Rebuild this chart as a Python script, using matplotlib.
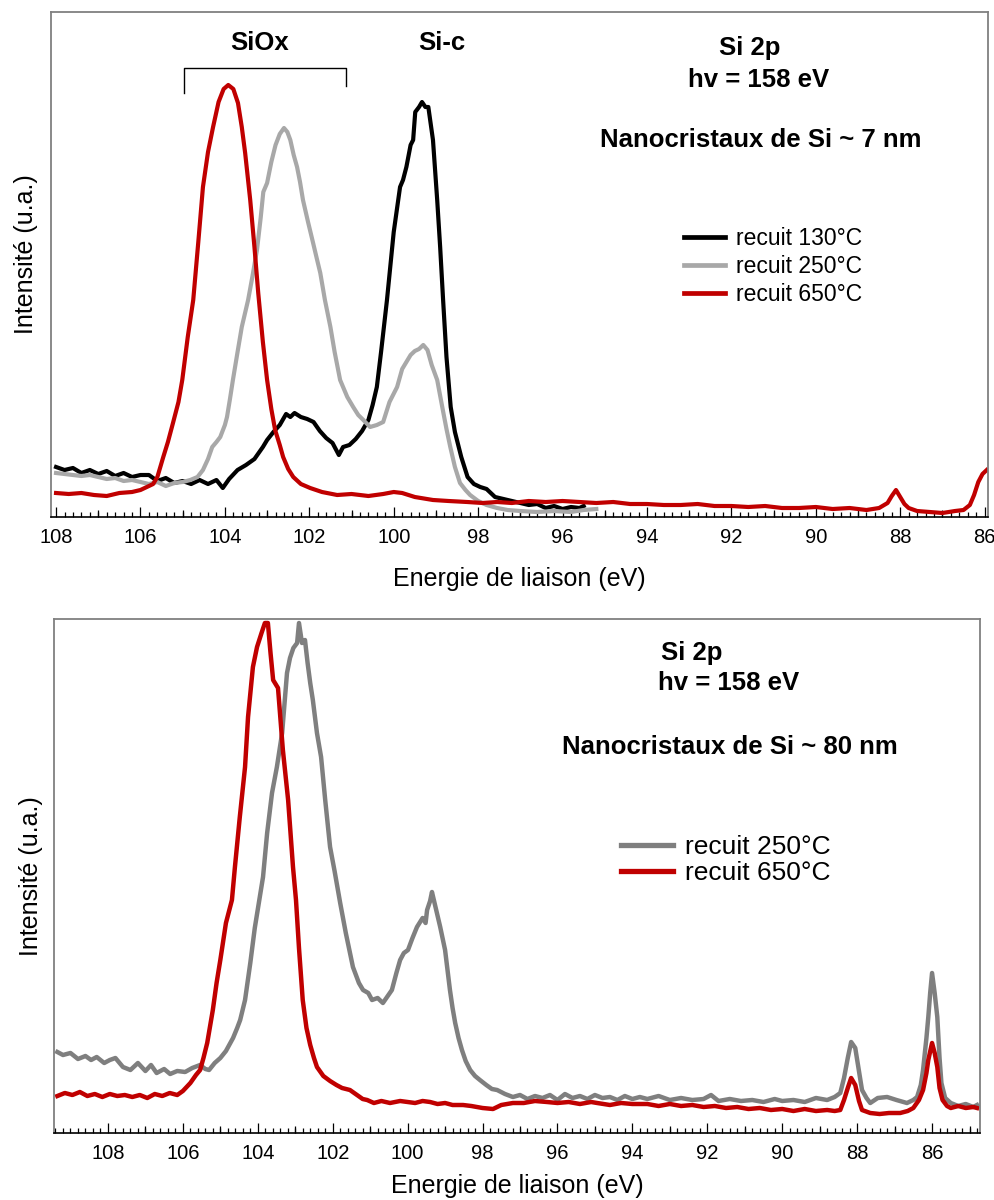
import matplotlib
matplotlib.use("Agg")
import matplotlib.pyplot as plt
from matplotlib.ticker import MultipleLocator, FormatStrFormatter

plt.rcParams['font.family'] = ['Liberation Sans', 'DejaVu Sans']

# ---------------- data : top panel (Si nanocrystals ~7 nm) ----------------
top_e_130 = [108.0, 107.8, 107.6, 107.4, 107.2, 107.0, 106.8, 106.6, 106.4, 106.2, 106.0, 105.8, 105.6, 105.4,
             105.2, 105.0, 104.8, 104.6, 104.4, 104.2, 104.05, 103.9, 103.7, 103.5, 103.3, 103.1, 103.0, 102.85,
             102.7, 102.55, 102.45, 102.35, 102.2, 102.05, 101.9, 101.75, 101.6, 101.45, 101.3, 101.2, 101.05,
             100.9, 100.75, 100.6, 100.5, 100.4, 100.3, 100.16, 100.0, 99.85, 99.78, 99.7, 99.6, 99.54, 99.49,
             99.4, 99.33, 99.25, 99.18, 99.07, 98.97, 98.9, 98.83, 98.75, 98.65, 98.55, 98.4, 98.25, 98.1, 97.95,
             97.8, 97.6, 97.4, 97.2, 97.0, 96.8, 96.6, 96.4, 96.2, 96.0, 95.8, 95.6, 95.5]
top_i_130 = [50, 47, 49, 44, 47, 43, 46, 41, 44, 40, 42, 42, 36, 39,
             34, 36, 33, 37, 33, 37, 29, 38, 47, 52, 58, 70, 77, 85,
             92, 103, 100, 104, 100, 98, 95, 86, 79, 74, 62, 70, 72,
             78, 86, 97, 112, 130, 165, 217, 285, 330, 337, 350, 372, 377, 405,
             410, 415, 410, 410, 377, 317, 270, 217, 160, 110, 85, 60, 40, 33, 30,
             28, 20, 18, 16, 14, 12, 13, 9, 11, 8, 10, 9, 11]

top_e_250 = [108.0, 107.8, 107.6, 107.4, 107.2, 107.0, 106.8, 106.6, 106.4, 106.2, 106.0, 105.8, 105.6, 105.4,
             105.2, 105.0, 104.82, 104.65, 104.52, 104.4, 104.3, 104.2, 104.11, 104.0, 103.95, 103.88, 103.81,
             103.7, 103.6, 103.45, 103.35, 103.24, 103.15, 103.09, 103.0, 102.9, 102.8, 102.7, 102.6, 102.52,
             102.45, 102.37, 102.29, 102.22, 102.15, 102.03, 101.91, 101.82, 101.74, 101.63, 101.5, 101.4, 101.27,
             101.1, 100.96, 100.84, 100.72, 100.56, 100.4, 100.25, 100.1, 99.92, 99.8, 99.7, 99.6, 99.5, 99.4,
             99.3, 99.2, 99.1, 98.97, 98.85, 98.75, 98.66, 98.55, 98.43, 98.3, 98.19, 98.0, 97.8, 97.55, 97.3,
             97.0, 96.6, 96.2, 95.8, 95.5, 95.2]
top_i_250 = [44, 43, 42, 41, 42, 40, 38, 39, 36, 37, 35, 33, 35, 31,
             34, 35, 37, 40, 47, 58, 70, 75, 80, 92, 100, 118, 137,
             165, 190, 217, 240, 267, 300, 325, 334, 355, 372, 383, 389, 385,
             377, 362, 350, 335, 317, 295, 274, 258, 244, 217, 190, 165, 137,
             120, 110, 102, 97, 90, 92, 95, 115, 130, 148, 155, 162, 166, 168,
             172, 167, 152, 137, 110, 88, 70, 50, 34, 27, 22, 16, 12, 9, 7,
             6, 5, 6, 5, 7, 8]

top_e_650 = [108.0, 107.7, 107.4, 107.1, 106.8, 106.5, 106.2, 106.0, 105.85, 105.7, 105.6, 105.46, 105.35,
             105.23, 105.1, 105.01, 104.88, 104.75, 104.63, 104.52, 104.4, 104.28, 104.15, 104.03, 103.92,
             103.8, 103.69, 103.6, 103.52, 103.4, 103.3, 103.21, 103.1, 103.0, 102.9, 102.81, 102.7, 102.62,
             102.5, 102.38, 102.2, 101.98, 101.7, 101.34, 101.0, 100.6, 100.25, 100.0, 99.8, 99.5, 99.07, 98.7,
             98.26, 97.9, 97.55, 97.2, 96.8, 96.4, 96.0, 95.6, 95.2, 94.8, 94.4, 94.0, 93.6, 93.2, 92.8, 92.4,
             92.0, 91.6, 91.2, 90.8, 90.4, 90.0, 89.6, 89.2, 88.8, 88.5, 88.3, 88.2, 88.1, 88.0, 87.9, 87.8,
             87.6, 87.3, 87.0, 86.7, 86.5, 86.35, 86.25, 86.15, 86.05, 85.95]
top_i_650 = [24, 23, 24, 22, 21, 24, 25, 27, 30, 33, 40, 60, 75,
             94, 115, 137, 180, 217, 275, 330, 365, 390, 415, 428, 432,
             428, 414, 390, 364, 317, 270, 224, 175, 137, 108, 87, 72, 60,
             48, 40, 33, 29, 25, 22, 23, 21, 23, 25, 24, 20, 17, 16,
             15, 14, 15, 14, 16, 15, 16, 15, 14, 15, 13, 13, 12, 12, 13, 11,
             11, 10, 11, 9, 9, 10, 8, 9, 7, 9, 14, 21, 27, 20, 13, 9,
             6, 5, 4, 6, 7, 12, 22, 35, 43, 47]

# ---------------- data : bottom panel (Si nanocrystals ~80 nm) ----------------
bot_e_250 = [109.35, 109.2, 109.0, 108.8, 108.6, 108.45, 108.3, 108.1, 107.95, 107.8, 107.6, 107.4, 107.2,
             107.0, 106.85, 106.7, 106.5, 106.34, 106.15, 105.94, 105.75, 105.54, 105.4, 105.3, 105.15, 105.0,
             104.85, 104.66, 104.55, 104.47, 104.34, 104.2, 104.08, 103.96, 103.86, 103.75, 103.62, 103.49,
             103.35, 103.22, 103.14, 103.05, 102.95, 102.9, 102.82, 102.74, 102.67, 102.6, 102.53, 102.42,
             102.31, 102.2, 102.07, 101.95, 101.8, 101.65, 101.46, 101.3, 101.19, 101.05, 100.95, 100.8, 100.66,
             100.55, 100.42, 100.3, 100.2, 100.1, 99.99, 99.87, 99.75, 99.6, 99.52, 99.48, 99.4, 99.35, 99.25,
             99.13, 99.0, 98.87, 98.8, 98.73, 98.64, 98.55, 98.45, 98.33, 98.2, 98.07, 97.9, 97.75, 97.61, 97.4,
             97.19, 97.0, 96.8, 96.6, 96.4, 96.2, 96.0, 95.8, 95.6, 95.4, 95.2, 95.0, 94.8, 94.6, 94.4, 94.2,
             94.0, 93.8, 93.6, 93.3, 93.0, 92.7, 92.4, 92.1, 91.9, 91.7, 91.4, 91.1, 90.8, 90.5, 90.2, 90.0,
             89.7, 89.4, 89.1, 88.8, 88.6, 88.45, 88.35, 88.25, 88.16, 88.05, 87.95, 87.87, 87.75, 87.65, 87.45,
             87.2, 86.95, 86.67, 86.5, 86.4, 86.3, 86.24, 86.15, 86.1, 86.05, 86.0, 85.93, 85.86, 85.8, 85.75,
             85.65, 85.5, 85.3, 85.1, 84.9, 84.8]
bot_i_250 = [81, 78, 80, 74, 77, 73, 76, 70, 73, 75, 66, 63, 70,
             62, 68, 60, 64, 59, 62, 61, 65, 68, 64, 63, 70, 75,
             82, 95, 105, 113, 133, 170, 205, 233, 256, 300, 340, 366,
             400, 460, 475, 485, 490, 510, 490, 493, 470, 450, 433, 400,
             376, 333, 286, 262, 230, 200, 166, 150, 143, 140, 133, 135, 130,
             136, 143, 160, 173, 180, 183, 195, 206, 215, 210, 223, 232, 241, 225,
             206, 183, 143, 125, 110, 95, 83, 72, 63, 57, 53, 48, 44, 43, 39,
             36, 38, 34, 37, 35, 38, 33, 39, 35, 37, 34, 38, 35, 36, 33, 37,
             34, 36, 34, 37, 33, 35, 33, 34, 38, 32, 34, 32, 33, 31, 34, 32,
             33, 31, 35, 33, 36, 40, 55, 75, 91, 85, 62, 43, 35, 30, 35,
             36, 33, 30, 33, 36, 48, 63, 95, 116, 140, 160, 140, 116, 75, 50,
             35, 30, 27, 29, 26, 28]

bot_e_650 = [109.35, 109.15, 108.95, 108.75, 108.55, 108.35, 108.15, 107.95, 107.75, 107.55, 107.35, 107.15,
             106.95, 106.75, 106.55, 106.35, 106.15, 106.0, 105.8, 105.65, 105.54, 105.45, 105.35, 105.2, 105.1,
             105.0, 104.85, 104.69, 104.61, 104.48, 104.34, 104.26, 104.13, 104.02, 103.9, 103.81, 103.73,
             103.66, 103.59, 103.46, 103.33, 103.19, 103.06, 102.98, 102.9, 102.8, 102.7, 102.6, 102.5, 102.42,
             102.25, 102.07, 101.9, 101.75, 101.54, 101.35, 101.2, 101.08, 100.9, 100.7, 100.47, 100.2, 100.0,
             99.8, 99.6, 99.4, 99.2, 99.0, 98.8, 98.52, 98.3, 98.0, 97.72, 97.5, 97.19, 96.9, 96.6, 96.28, 96.0,
             95.7, 95.4, 95.1, 94.94, 94.6, 94.3, 94.0, 93.6, 93.3, 93.0, 92.7, 92.4, 92.1, 91.8, 91.5, 91.2,
             90.9, 90.6, 90.3, 90.0, 89.7, 89.4, 89.1, 88.8, 88.6, 88.45, 88.35, 88.25, 88.16, 88.05, 87.95,
             87.87, 87.65, 87.4, 87.15, 86.85, 86.65, 86.5, 86.35, 86.24, 86.15, 86.1, 86.0, 85.93, 85.86, 85.8,
             85.72, 85.6, 85.5, 85.3, 85.1, 84.9, 84.8]
bot_i_650 = [37, 40, 38, 41, 37, 39, 36, 39, 37, 38, 36, 38,
             35, 39, 37, 40, 38, 42, 50, 58, 63, 75, 90, 123, 150,
             173, 210, 233, 266, 316, 366, 416, 466, 486, 500, 510, 510,
             480, 453, 445, 383, 333, 266, 233, 185, 133, 105, 88, 75, 66,
             57, 52, 48, 45, 43, 38, 34, 33, 30, 32, 30, 32, 31,
             30, 32, 31, 29, 30, 28, 28, 27, 25, 24, 28, 30, 30, 32, 31, 30,
             31, 29, 31, 30, 28, 30, 29, 29, 27, 29, 27, 28, 26, 27, 25, 26,
             24, 25, 23, 24, 22, 24, 22, 23, 22, 23, 33, 45, 55, 48, 32,
             23, 20, 19, 20, 20, 22, 25, 33, 43, 60, 73, 90, 80, 66, 45,
             33, 27, 25, 27, 25, 26, 25]

ticks_major = [108, 106, 104, 102, 100, 98, 96, 94, 92, 90, 88, 86]
ticks_mid = [107, 105, 103, 101, 99, 97, 95, 93, 91, 89, 87, 85]
siox_bracket_e = [104.97, 104.97, 101.13, 101.13]
siox_bracket_i = [424, 449, 449, 431]

C_BLACK = '#000000'
C_LGRAY = '#A8A8A8'
C_RED = '#C00000'
C_MGRAY = '#7F7F7F'

fig = plt.figure(figsize=(9.95, 12), dpi=100)
ax1 = fig.add_axes([51 / 995, 1 - 517 / 1200, 937 / 995, 505 / 1200])
ax2 = fig.add_axes([54 / 995, 1 - 1133 / 1200, 926 / 995, 514 / 1200])


def style(ax, xlim, ylim, lsize):
    ax.set_xlim(*xlim)
    ax.set_ylim(*ylim)
    ax.set_yticks([])
    ax.set_xticks(ticks_major)
    ax.xaxis.set_major_formatter(FormatStrFormatter('%d'))
    ax.xaxis.set_minor_locator(MultipleLocator(0.2))
    ax.tick_params(axis='x', which='major', direction='in', length=7.5, width=0.9,
                   labelsize=lsize, pad=8, color='black')
    ax.tick_params(axis='x', which='minor', direction='in', length=3.6, width=0.9, color='black')
    for s in ('left', 'top', 'right'):
        ax.spines[s].set_color('#808080')
        ax.spines[s].set_linewidth(1.3)
    ax.spines['bottom'].set_color('black')
    ax.spines['bottom'].set_linewidth(1.2)
    sec = ax.secondary_xaxis('bottom')
    sec.set_xticks(ticks_mid)
    sec.tick_params(axis='x', which='both', direction='in', length=5.4, width=0.9,
                    labelbottom=False, color='black')
    sec.xaxis.set_minor_locator(plt.NullLocator())
    sec.spines['bottom'].set_visible(False)


# ---------------- top panel ----------------
ax1.plot(top_e_130, top_i_130, color=C_BLACK, lw=3.0, label='recuit 130°C', solid_joinstyle='round')
ax1.plot(top_e_250, top_i_250, color=C_LGRAY, lw=3.0, label='recuit 250°C', solid_joinstyle='round')
ax1.plot(top_e_650, top_i_650, color=C_RED, lw=3.0, label='recuit 650°C', solid_joinstyle='round')
style(ax1, (108.12, 85.92), (0, 505), 14.5)
ax1.set_xlabel('Energie de liaison (eV)', fontsize=18)
ax1.xaxis.set_label_coords(0.5, -50 / 505)
ax1.set_ylabel('Intensité (u.a.)', fontsize=18)
ax1.yaxis.set_label_coords(-13 / 937, 0.52)

ax1.plot(siox_bracket_e, siox_bracket_i, color='black', lw=1.0)
bold = dict(fontsize=18.5, fontweight='bold', ha='center', va='center', transform=ax1.transAxes)
ax1.text(0.223, 0.939, 'SiOx', **bold)
ax1.text(0.417, 0.939, 'Si-c', **bold)
ax1.text(0.746, 0.929, 'Si 2p', **bold)
ax1.text(0.7555, 0.865, 'hv = 158 eV', **bold)
ax1.text(0.757, 0.747, 'Nanocristaux de Si ~ 7 nm', **bold)
leg1 = ax1.legend(loc='center left', bbox_to_anchor=(0.6756, 0.496), frameon=False, fontsize=16.5,
                  handlelength=1.8, handletextpad=0.45, labelspacing=0.2, borderpad=0, borderaxespad=0)
for h in leg1.get_lines():
    h.set_linewidth(3.4)

# ---------------- bottom panel ----------------
ax2.plot(bot_e_250, bot_i_250, color=C_MGRAY, lw=3.2, label='recuit 250°C', solid_joinstyle='round')
ax2.plot(bot_e_650, bot_i_650, color=C_RED, lw=3.2, label='recuit 650°C', solid_joinstyle='round')
style(ax2, (109.44, 84.72), (0, 514), 14.5)
ax2.set_xlabel('Energie de liaison (eV)', fontsize=18)
ax2.xaxis.set_label_coords(0.5, -41 / 514)
ax2.set_ylabel('Intensité (u.a.)', fontsize=18)
ax2.yaxis.set_label_coords(-11 / 926, 0.5)

bold2 = dict(fontsize=18.5, fontweight='bold', ha='center', va='center', transform=ax2.transAxes)
ax2.text(0.689, 0.934, 'Si 2p', **bold2)
ax2.text(0.728, 0.875, 'hv = 158 eV', **bold2)
ax2.text(0.730, 0.751, 'Nanocristaux de Si ~ 80 nm', **bold2)
leg2 = ax2.legend(loc='center left', bbox_to_anchor=(0.612, 0.531), frameon=False, fontsize=19,
                  handlelength=2.0, handletextpad=0.45, labelspacing=0.08, borderpad=0, borderaxespad=0)
for h in leg2.get_lines():
    h.set_linewidth(3.8)

fig.savefig('out.png', dpi=100)
